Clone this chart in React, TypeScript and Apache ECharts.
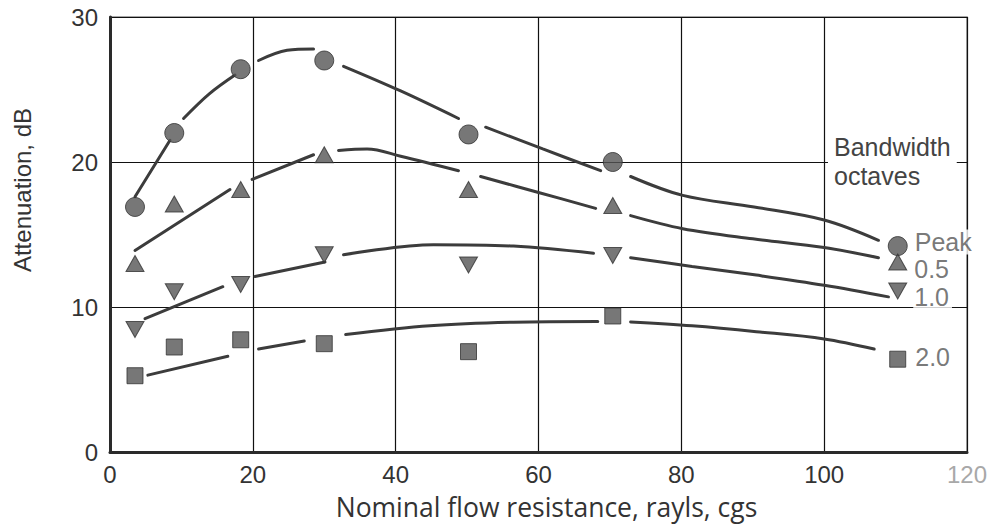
import React, { useEffect, useRef } from "react";
import * as echarts from "echarts";

// Measured points: nominal flow resistance (rayls, cgs) vs attenuation (dB)
const sampleX = [3.5, 9, 18.3, 30, 50.2, 70.4, 110.3];
const peakDb = [16.9, 22.0, 26.4, 27.0, 21.9, 20.0, 14.2];
const halfOctaveDb = [13.0, 17.1, 18.1, 20.5, 18.1, 17.0, 13.1];
const oneOctaveDb = [8.45, 11.05, 11.55, 13.6, 12.9, 13.55, 11.1];
const twoOctaveDb = [5.26, 7.24, 7.74, 7.47, 6.92, 9.38, 6.4];

// Fitted trend curves, drawn as broken (dashed) segments
const peakCurve = [
  [[3.5, 17.6], [8.4, 21.5]],
  [[10.3, 23.0], [13.9, 24.7], [17.5, 26.0]],
  [[20.8, 27.0], [24.8, 27.7], [28.5, 27.8]],
  [[32.7, 26.6], [40.7, 24.9], [48.8, 23.0]],
  [[52.6, 22.4], [60.6, 20.9], [68.7, 19.4]],
  [[72.9, 19.0], [80.2, 17.7], [90.2, 16.9], [100, 16.0], [107.6, 14.6]],
];
const halfOctaveCurve = [
  [[3.5, 13.9], [16.8, 18.1]],
  [[19.9, 18.8], [28.5, 20.5]],
  [[32.0, 20.8], [36.0, 20.9], [40.7, 20.4], [48.8, 19.4]],
  [[51.9, 19.0], [60.0, 17.9], [68.0, 16.8]],
  [[72.9, 16.3], [80.2, 15.4], [90, 14.7], [100, 14.1], [107.6, 13.4]],
];
const oneOctaveCurve = [
  [[4.9, 9.2], [15.8, 11.4]],
  [[20.3, 12.1], [30.1, 13.1]],
  [[32.7, 13.6], [45.3, 14.3], [56.5, 14.2], [67.7, 13.7]],
  [[72.9, 13.4], [81.5, 12.8], [90.5, 12.2], [100, 11.5], [109, 10.7]],
];
const twoOctaveCurve = [
  [[5.3, 5.3], [16.5, 6.6]],
  [[20.8, 7.1], [27.2, 7.65]],
  [[33.0, 8.1], [44.8, 8.7], [56.5, 8.95], [68.3, 9.0]],
  [[72.9, 8.97], [81.5, 8.7], [90.5, 8.3], [100, 7.8], [107, 7.1]],
];

const seriesNames = ["Peak", "0.5", "1.0", "2.0"];
const legendTitle = ["Bandwidth", "octaves"];
const xTitle = "Nominal flow resistance, rayls, cgs";
const yTitle = "Attenuation, dB";

const INK = "#3c3c3c";
const MARK = "#555555";

export default function App() {
  const ref = useRef<HTMLDivElement>(null);

  useEffect(() => {
    if (!ref.current) return;
    const chart = echarts.init(ref.current, undefined, { renderer: "svg" });

    const curveSeries = (segments: number[][][]) =>
      segments.map((seg) => ({
        type: "line",
        data: seg,
        smooth: 0.35,
        symbol: "none",
        silent: true,
        z: 2,
        lineStyle: { color: INK, width: 3, cap: "round" },
      }));

    const markerSeries = (
      ys: number[],
      symbol: string,
      size: number | number[],
      rotate: number,
      name: string,
      labelOffset: number[],
      labelDistance: number
    ) => ({
      type: "scatter",
      symbol,
      symbolSize: size,
      symbolRotate: rotate,
      z: 4,
      silent: true,
      itemStyle: { color: MARK, borderColor: "#333", borderWidth: 1 },
      data: ys.map((y, i) =>
        i === ys.length - 1
          ? {
              value: [sampleX[i], y],
              label: {
                show: true,
                formatter: name,
                position: "right",
                distance: labelDistance,
                offset: labelOffset,
                fontFamily: "Liberation Sans",
                fontSize: 25,
                color: "#555",
                backgroundColor: "#fff",
                padding: [0, 3, 0, 1],
              },
            }
          : [sampleX[i], y]
      ),
    });

    chart.setOption({
      animation: false,
      backgroundColor: "#fff",
      grid: {
        left: 110,
        right: 28,
        top: 17,
        bottom: 76,
        containLabel: false,
        outerBoundsMode: "none",
        show: true,
        borderColor: "#8a8a8a",
        borderWidth: 1.5,
      },
      xAxis: {
        type: "value",
        min: 0,
        max: 120,
        interval: 20,
        axisLine: { show: true, onZero: false, lineStyle: { color: "#2a2a2a", width: 3 } },
        axisTick: { show: false },
        splitLine: { show: true, lineStyle: { color: "#111", width: 1.2 } },
        axisLabel: {
          margin: 10,
          fontFamily: "Liberation Sans",
          fontSize: 24,
          color: "#333",
          formatter: (v: number) => (v === 120 ? "{light|" + v + "}" : String(v)),
          rich: { light: { color: "#a8a8a8", fontFamily: "Liberation Sans", fontSize: 24 } },
        },
        name: xTitle,
        nameLocation: "middle",
        nameGap: 41,
        nameTextStyle: {
          fontFamily: "Open Sans",
          fontSize: 26.5,
          color: "#333",
          padding: [0, 0, 0, 16],
        },
      },
      yAxis: {
        type: "value",
        min: 0,
        max: 30,
        interval: 10,
        axisLine: { show: true, onZero: false, lineStyle: { color: "#2a2a2a", width: 3 } },
        axisTick: { show: false },
        splitLine: { show: true, lineStyle: { color: "#111", width: 1.2 } },
        axisLabel: {
          margin: 12,
          fontFamily: "Liberation Sans",
          fontSize: 24,
          color: "#333",
        },
      },
      graphic: [
        {
          type: "text",
          x: 22,
          y: 190,
          rotation: Math.PI / 2,
          style: {
            text: yTitle,
            fontFamily: "Liberation Sans",
            fontSize: 24,
            fill: "#333",
            align: "center",
            verticalAlign: "middle",
          },
        },
        {
          type: "text",
          x: 828,
          y: 132,
          z: 3,
          style: {
            text: legendTitle.join("\n"),
            fontFamily: "Liberation Sans",
            fontSize: 25,
            lineHeight: 29,
            fill: "#444",
            backgroundColor: "#fff",
            padding: [0, 6, 0, 6],
          },
        },
      ],
      series: [
        ...curveSeries(peakCurve),
        ...curveSeries(halfOctaveCurve),
        ...curveSeries(oneOctaveCurve),
        ...curveSeries(twoOctaveCurve),
        markerSeries(peakDb, "circle", 19, 0, seriesNames[0], [0, -4], 6),
        markerSeries(halfOctaveDb, "triangle", [18, 16], 0, seriesNames[1], [0, 7], 6),
        markerSeries(oneOctaveDb, "triangle", [18, 16], 180, seriesNames[2], [0, 6], 6),
        markerSeries(twoOctaveDb, "rect", 16, 0, seriesNames[3], [0, -2], 8),
      ],
    });

    return () => chart.dispose();
  }, []);

  return (
    <div
      ref={ref}
      style={{ position: "absolute", left: 0, top: 0, width: 995, height: 528 }}
    />
  );
}
